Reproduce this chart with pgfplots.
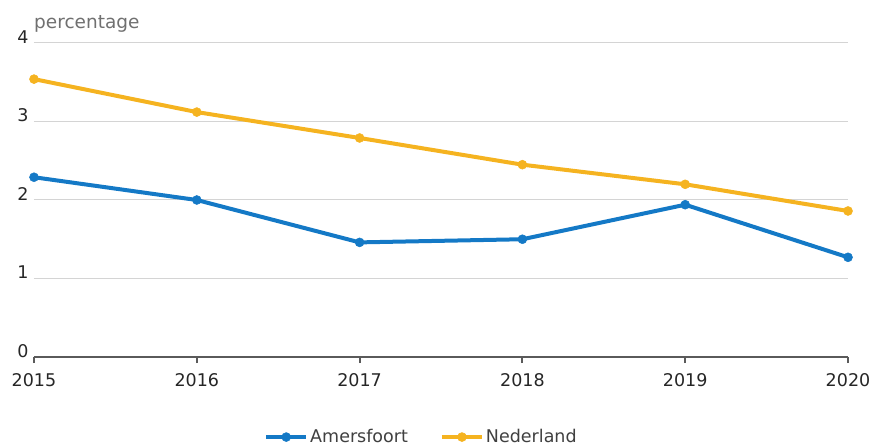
\documentclass[border=0pt]{standalone}
\usepackage{pgfplots}
\pgfplotsset{compat=1.18}
\usepackage{fontspec}
\setmainfont{DejaVu Sans}
\definecolor{cbsblue}{HTML}{1479C6}
\definecolor{cbsyellow}{HTML}{F5B320}
\definecolor{gridgray}{HTML}{D4D4D4}
\definecolor{axisgray}{HTML}{5A5A5A}
\definecolor{labelgray}{HTML}{707070}
\begin{document}
\begin{tikzpicture}[x=1pt,y=1pt]
\path[use as bounding box] (-34,-89) rectangle (840,357);
\begin{axis}[
  at={(0,0)}, anchor=south west,
  scale only axis, width=814pt, height=314pt,
  xmin=2015, xmax=2020, ymin=0, ymax=4,
  xtick={2015,2016,2017,2018,2019,2020},
  ytick={0,1,2,3,4},
  axis lines*=left,
  clip=false,
  y axis line style={draw=none},
  ytick style={draw=none},
  x axis line style={axisgray, line width=2.5pt},
  xtick style={axisgray, line width=2pt},
  xtick align=outside,
  major tick length=6pt,
  ymajorgrids,
  grid style={gridgray, line width=1pt},
  /pgf/number format/1000 sep={},
  /pgf/number format/assume math mode=true,
  tick label style={font=\fontsize{17.5}{20}\selectfont, text=black!85},
  yticklabel style={anchor=east, xshift=-2pt, yshift=6pt},
  xticklabel style={yshift=-7pt},
  legend style={draw=none, at={(axis description cs:0.476,-0.255)}, anchor=center,
    font=\fontsize{17.5}{20}\selectfont, text=black!75, /tikz/every even column/.append style={column sep=30pt}},
  legend columns=2,
  legend cell align=left,
  legend image code/.code={\draw[mark repeat=2,mark phase=2,#1] plot coordinates {(0pt,0pt) (20pt,0pt) (40pt,0pt)};},
]
\addplot[cbsblue, line width=4pt, mark=*, mark size=4.5pt, mark options={solid, line width=0.5pt, draw=cbsblue, fill=cbsblue}] coordinates {
(2015,2.29) (2016,2.00) (2017,1.46) (2018,1.50) (2019,1.94) (2020,1.27)};
\addlegendentry{Amersfoort}
\addplot[cbsyellow, line width=4pt, mark=*, mark size=4.5pt, mark options={solid, line width=0.5pt, draw=cbsyellow, fill=cbsyellow}] coordinates {
(2015,3.54) (2016,3.12) (2017,2.79) (2018,2.45) (2019,2.20) (2020,1.86)};
\addlegendentry{Nederland}
\node[anchor=base west, inner sep=0pt, text=labelgray, font=\fontsize{18.5}{21}\selectfont] at (axis cs:2015,4) [yshift=14pt] {percentage};
\end{axis}
\end{tikzpicture}
\end{document}
